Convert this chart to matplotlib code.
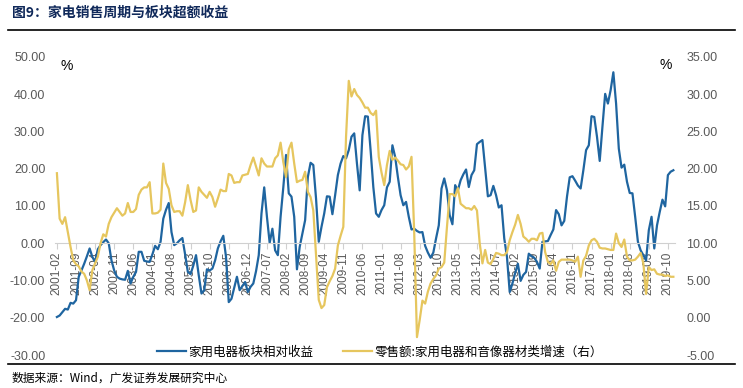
import matplotlib
matplotlib.use("Agg")
import matplotlib.pyplot as plt
import pandas as pd

START = "2001-02"

# 家用电器板块相对收益 (左轴, %)
sector_excess = [
    -19.8, -19.4, -18.5, -17.6, -17.8, -16.0, -16.2, -15.3, -9.0, -7.3,
    -5.5, -3.5, -1.4, -3.7, -5.0, -1.6, -0.5, 0.3, 1.0, 0.0,
    -4.6, -7.3, -9.0, -9.5, -9.7, -9.8, -7.4, -10.8, -9.0, -7.7,
    -2.3, -2.3, -4.7, -4.9, -5.0, -3.0, -0.7, -1.6, 0.4, 6.6,
    9.0, 10.8, 3.0, -0.5, 0.0, 0.8, 1.4, -3.0, -7.7, -8.3,
    -6.0, -3.2, -8.6, -13.5, -12.6, -7.0, -7.3, -6.8, -4.6, -1.4,
    0.5, 2.0, -3.7, -15.8, -14.9, -12.0, -9.0, -12.6, -11.5, -10.4,
    -13.1, -11.7, -10.8, -7.5, -3.2, 8.0, 15.0, 7.1, 0.1, 3.9,
    -1.9, -3.2, 7.1, 15.0, 23.7, 13.4, 12.5, 7.1, -7.0, -1.0,
    2.6, 6.2, 17.8, 21.6, 21.0, 12.0, 0.4, 4.4, 8.0, 12.6,
    12.5, 7.8, 12.9, 18.3, 21.4, 23.4, 22.8, 25.0, 28.6, 29.5,
    21.4, 14.2, 29.0, 34.1, 34.0, 25.0, 15.1, 8.0, 7.1, 8.9,
    10.2, 15.0, 16.5, 26.3, 23.2, 17.8, 12.9, 10.2, 11.1, 7.1,
    3.7, 3.9, 3.3, 2.9, 3.0, -0.7, -2.5, -3.9, -2.5, 1.3,
    4.8, 14.7, 17.4, 14.2, 7.5, 5.1, 15.6, 14.2, 16.9, 18.5,
    19.8, 15.1, 18.3, 19.6, 26.6, 27.2, 27.7, 20.0, 12.6, 12.9,
    15.4, 12.9, 9.6, 10.2, 1.3, -3.7, -13.1, -10.8, -8.0, -5.5,
    -10.1, -8.5, -7.7, -2.8, -3.5, -3.9, -5.0, -6.8, 0.4, 0.5,
    0.6, 2.2, 3.7, 8.9, 7.8, 4.8, 6.0, 12.5, 17.7, 18.0,
    16.8, 15.5, 14.7, 19.6, 25.0, 26.3, 34.1, 33.9, 28.6, 22.1,
    31.3, 40.1, 37.5, 41.1, 45.9, 37.5, 25.4, 20.3, 21.1, 16.5,
    13.5, 13.4, 7.1, 0.4, -1.9, -3.2, -4.6, 3.5, 7.1, -1.4,
    4.8, 8.4, 11.7, 9.9, 18.3, 19.2, 19.6,
]

# 零售额:家用电器和音像器材类增速 (右轴, %)
retail_growth = [
    19.4, 13.3, 12.6, 13.5, 11.5, 9.5, 7.7, 7.2, 6.9, 6.2,
    5.9, 5.0, 3.7, 6.4, 7.3, 8.2, 10.0, 11.2, 10.9, 12.6,
    13.5, 14.1, 14.7, 14.2, 13.7, 14.0, 15.4, 14.2, 14.2, 14.6,
    16.5, 17.2, 17.5, 17.5, 18.2, 14.0, 14.0, 14.1, 14.5, 20.7,
    18.1, 17.3, 15.1, 14.2, 14.3, 14.3, 13.7, 15.5, 17.8, 15.8,
    14.2, 14.4, 17.5, 16.9, 16.5, 16.1, 16.9, 16.2, 14.9, 16.0,
    17.2, 17.0, 17.0, 19.3, 19.1, 18.1, 18.2, 18.2, 19.1, 19.2,
    19.3, 20.5, 21.5, 20.3, 19.1, 21.4, 20.7, 20.3, 20.3, 20.3,
    21.4, 21.8, 23.5, 20.9, 18.9, 22.6, 23.5, 20.7, 18.2, 18.4,
    18.5, 19.6, 16.9, 16.2, 14.4, 8.4, 2.4, 1.3, 1.7, 4.1,
    4.9, 5.6, 6.6, 9.7, 11.0, 12.2, 24.3, 31.8, 29.7, 30.7,
    29.9, 29.5, 28.9, 28.2, 28.2, 27.5, 27.2, 27.8, 21.6, 19.5,
    17.8, 20.5, 22.4, 21.2, 21.5, 21.1, 20.6, 20.5, 19.9, 20.3,
    21.6, 11.3, -2.6, -0.3, 2.3, 1.9, 3.5, 4.6, 5.2, 5.7,
    6.6, 6.8, 7.4, 12.2, 16.6, 16.6, 16.3, 17.4, 15.3, 15.0,
    14.7, 14.7, 14.5, 15.0, 14.4, 10.0, 7.3, 9.1, 7.4, 7.2,
    7.9, 8.7, 8.6, 8.4, 8.4, 8.8, 10.4, 11.5, 12.5, 13.8,
    12.6, 10.9, 10.6, 10.2, 10.6, 10.6, 10.4, 11.3, 11.4, 8.8,
    7.5, 7.2, 7.7, 6.3, 7.5, 7.8, 7.8, 7.8, 7.8, 7.7,
    7.5, 8.2, 5.5, 7.7, 8.3, 9.7, 10.4, 10.6, 10.2, 9.4,
    9.3, 9.3, 9.2, 9.1, 9.1, 11.3, 10.0, 9.5, 10.5, 8.2,
    7.7, 7.7, 7.8, 8.2, 8.7, 7.3, 3.2, 6.8, 6.4, 6.5,
    5.9, 5.8, 5.8, 5.6, 5.7, 5.5, 5.5,
]

months = pd.period_range(START, periods=len(sector_excess), freq="M")
labels = [p.strftime("%Y-%m") for p in months]
xs = list(range(len(months)))
tick_pos = xs[::7]
tick_lab = labels[::7]

BLUE = "#1f65a0"
YELLOW = "#e6c65e"
GREY = "#595959"
CJK = ["Noto Sans CJK SC", "DejaVu Sans"]

plt.rcParams["font.family"] = ["Liberation Sans", "Noto Sans CJK SC"]

fig = plt.figure(figsize=(7.43, 3.88), dpi=100)
ax = fig.add_axes([55 / 743, 1 - 355 / 388, 620 / 743, 298 / 388])
ax2 = ax.twinx()

l1, = ax.plot(xs, sector_excess, color=BLUE, lw=1.6)
l2, = ax2.plot(xs, retail_growth, color=YELLOW, lw=1.6)

ax.set_xlim(-0.7, 226.6)
ax.set_ylim(-30, 50)
ax2.set_ylim(-5, 35)
ax.set_yticks(range(-30, 51, 10))
ax2.set_yticks(range(-5, 36, 5))
ax.set_yticklabels([f"{v:.2f}" for v in range(-30, 51, 10)])
ax2.set_yticklabels([f"{v:.2f}" for v in range(-5, 36, 5)])

for a in (ax, ax2):
    for s in a.spines.values():
        s.set_visible(False)
ax.spines["bottom"].set_visible(True)
ax.spines["bottom"].set_position(("data", 0))
ax.spines["bottom"].set_color("#d0d0d0")

ax.set_xticks(tick_pos)
ax.set_xticklabels(tick_lab, rotation=90)
ax.tick_params(axis="x", colors="#d0d0d0", labelcolor=GREY, labelsize=8.5,
               length=4, pad=2)
ax.tick_params(axis="y", length=0, labelcolor=GREY, labelsize=9, pad=7)
ax2.tick_params(axis="y", length=0, labelcolor=GREY, labelsize=9, pad=8)

# unit marks
fig.text(67 / 743, 1 - 66 / 388, "%", fontsize=10, ha="center", va="center")
fig.text(666 / 743, 1 - 65 / 388, "%", fontsize=10, ha="center", va="center")

fig.text(12 / 743, 1 - 13 / 388, "图9：家电销售周期与板块超额收益", fontsize=10,
         fontweight="bold", color="#10295a", family=CJK, va="center")
fig.add_artist(plt.Line2D([8 / 743, 735 / 743], [1 - 30 / 388] * 2,
                          color="black", lw=1.2))
fig.add_artist(plt.Line2D([8 / 743, 735 / 743], [1 - 364 / 388] * 2,
                          color="black", lw=1.2))
fig.text(12 / 743, 1 - 378 / 388, "数据来源：Wind，广发证券发展研究中心",
         fontsize=8.5, family=CJK, va="center")

fig.legend([l1, l2], ["家用电器板块相对收益", "零售额:家用电器和音像器材类增速（右）"],
           loc="center", bbox_to_anchor=(380 / 743, 1 - 352 / 388),
           ncol=2, frameon=False, handlelength=2.3, handletextpad=0.2,
           columnspacing=2.4, prop={"family": CJK, "size": 9})

fig.savefig("out.png", dpi=100)
